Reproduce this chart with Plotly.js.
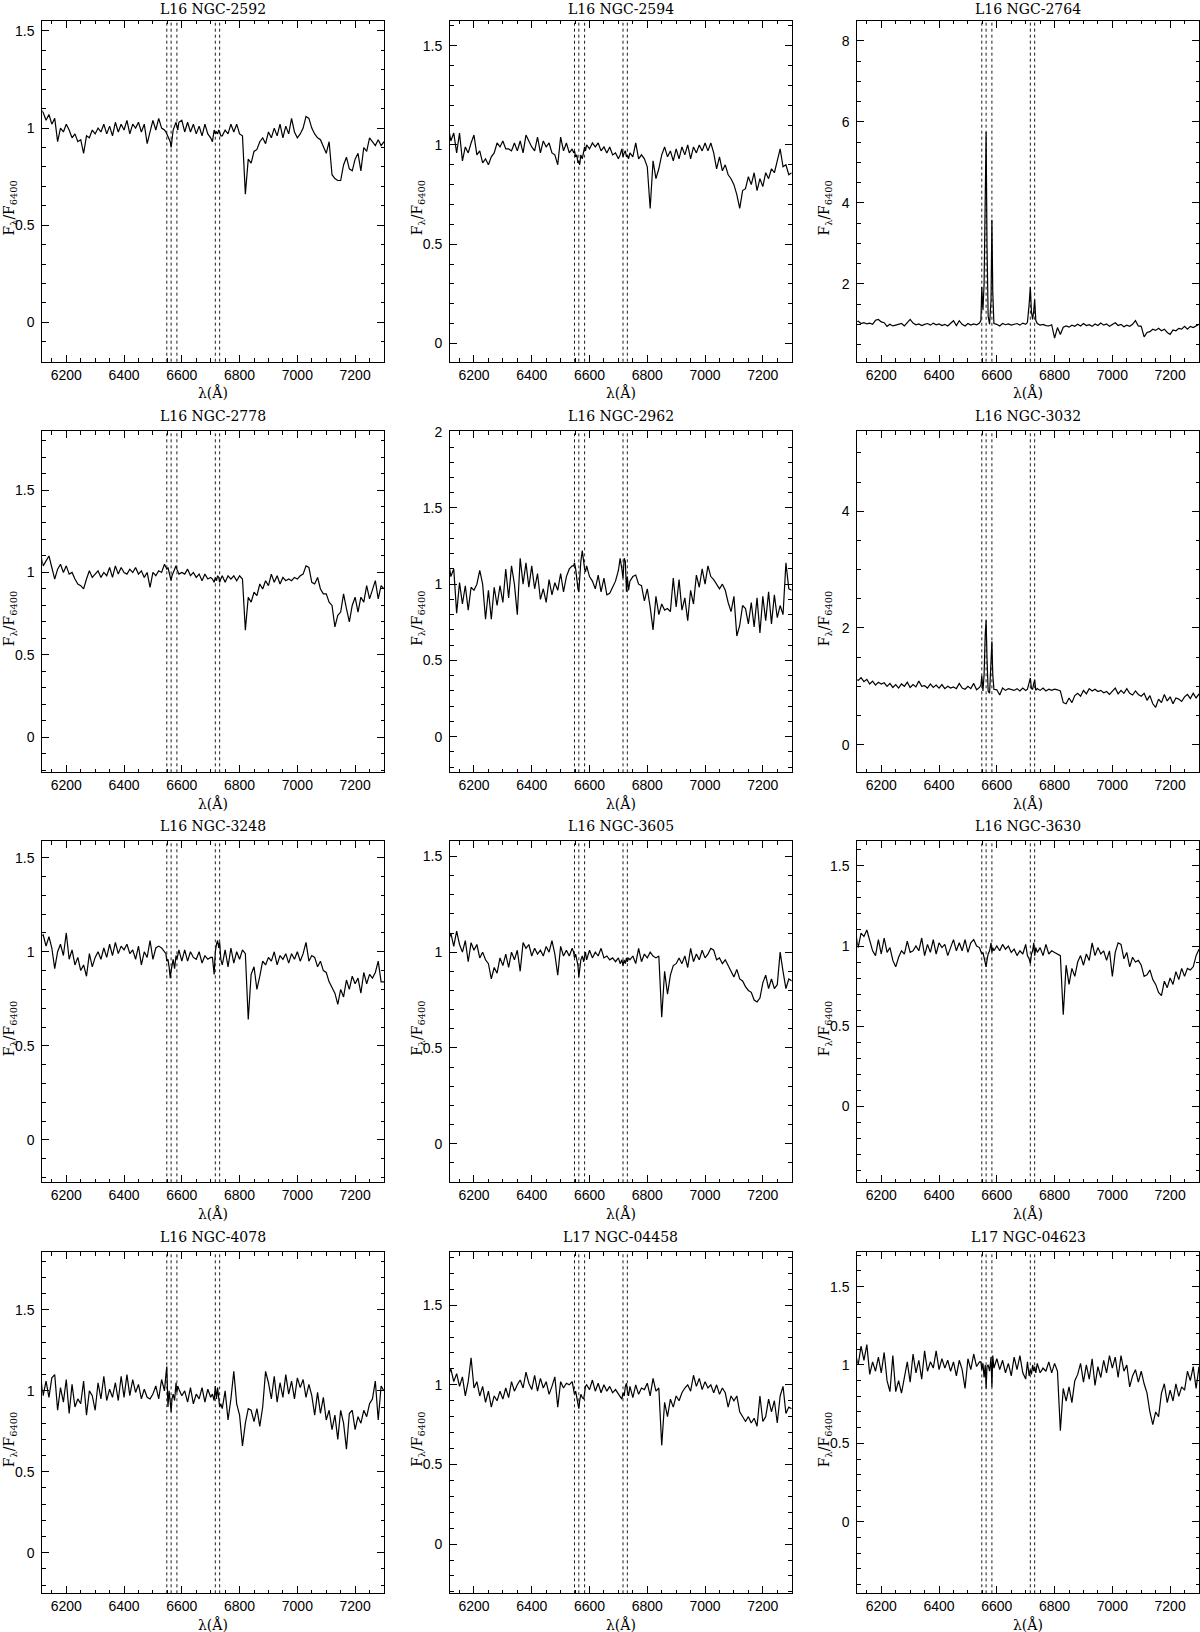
<!DOCTYPE html>
<html><head><meta charset="utf-8">
<script src="https://cdn.plot.ly/plotly-3.0.1.min.js"></script>
<style>html,body{margin:0;padding:0;background:#fff}#chart{width:1200px;height:1632px}</style>
</head><body><div id="chart"></div>
<script>
// Wavelength grid (Angstrom)
const wave = [6110,6120,6130,6140,6150,6160,6170,6180,6190,6200,6210,6220,6230,6240,6250,6260,6270,6280,6290,6300,
6310,6320,6330,6340,6350,6360,6370,6380,6390,6400,6410,6420,6430,6440,6450,6460,6470,6480,6490,6500,6510,6520,6530,6540,
6545,6548,6552,6556,6560,6563,6566,6570,6575,6580,6583,6586,6590,
6600,6610,6620,6630,6640,6650,6660,6670,6680,6690,6700,
6706,6712,6716,6720,6724,6728,6731,6735,
6740,6750,6760,6770,6780,6790,6800,6810,6820,6830,6840,6850,6860,6870,6880,6890,6900,6910,6920,6930,
6940,6950,6960,6970,6980,6990,7000,7010,7020,7030,7040,7050,7060,7070,7080,7090,7100,7110,7120,7130,
7140,7150,7160,7170,7180,7190,7200,7210,7220,7230,7240,7250,7260,7270,7280,7290,7300];

// Marked emission lines: [NII]6548, Halpha, [NII]6583, [SII]6716, [SII]6731
const lineWaves = [6548, 6563, 6583, 6716, 6731];

const titles = ['L16 NGC-2592','L16 NGC-2594','L16 NGC-2764','L16 NGC-2778','L16 NGC-2962','L16 NGC-3032',
                'L16 NGC-3248','L16 NGC-3605','L16 NGC-3630','L16 NGC-4078','L17 NGC-04458','L17 NGC-04623'];

const ngc2592 = [1.10,1.08,1.04,1.07,1.02,1.05,0.93,1.00,0.98,1.02,0.99,0.95,0.97,0.93,0.94,0.87,0.96,0.95,0.99,0.97,
1.00,0.98,1.02,0.97,1.01,0.96,1.03,0.98,1.02,0.99,1.04,0.97,1.02,1.00,1.03,0.98,1.02,0.92,0.98,1.04,0.99,1.05,1.00,0.99,
0.98,0.97,0.96,0.95,0.93,0.90,0.95,0.99,1.01,1.03,1.01,0.99,1.03,
1.04,0.98,1.03,0.98,1.02,0.97,1.01,0.96,1.02,0.97,0.95,
0.93,0.99,0.97,0.98,0.97,0.99,0.98,0.96,
0.96,0.99,0.97,1.02,0.98,1.02,0.97,0.96,0.66,0.84,0.82,0.88,0.89,0.93,0.95,0.92,0.98,0.95,1.00,0.96,
1.02,0.95,1.01,0.97,1.05,0.98,0.95,0.97,1.00,1.06,1.05,1.00,0.97,0.95,0.94,0.90,0.87,0.93,0.76,0.74,
0.73,0.73,0.81,0.85,0.79,0.78,0.84,0.87,0.78,0.90,0.88,0.95,0.93,0.91,0.94,0.91,0.93];

const ngc2594 = [1.10,1.02,1.06,0.96,1.06,0.92,0.99,0.96,1.01,1.05,0.95,0.97,0.91,0.93,0.90,0.94,0.96,1.01,0.99,1.02,
0.98,0.98,0.97,1.01,0.97,1.02,0.96,1.05,1.02,0.99,0.97,1.04,0.96,1.02,0.99,1.01,0.96,0.95,0.90,1.04,0.97,1.01,0.96,0.98,
0.96,0.97,0.94,0.95,0.91,0.92,0.90,0.95,0.93,0.98,0.99,0.97,1.00,
0.98,1.01,0.99,1.01,0.97,0.99,0.96,0.99,0.95,0.96,0.93,
0.95,0.98,0.94,0.96,0.97,0.94,0.95,0.93,
0.96,0.94,1.01,0.93,0.95,0.93,0.89,0.68,0.92,0.83,0.88,0.95,0.99,0.94,0.97,0.92,0.98,0.93,0.99,0.95,
1.00,0.93,0.99,0.96,1.00,0.97,1.01,0.97,1.01,0.96,0.88,0.94,0.87,0.90,0.85,0.83,0.80,0.75,0.68,0.77,
0.78,0.84,0.80,0.86,0.77,0.83,0.79,0.86,0.83,0.88,0.86,0.92,0.98,0.89,0.90,0.85,0.86];

const ngc2764 = [1.05,1.08,1.02,1.04,1.01,1.03,1.00,1.10,1.12,1.06,1.04,0.95,1.00,0.96,0.98,1.00,1.02,0.96,1.04,1.12,
1.03,0.99,1.01,0.97,1.00,1.02,0.98,1.03,0.99,1.01,0.97,1.00,0.96,1.03,1.09,0.97,1.09,1.00,0.96,1.02,0.98,1.01,0.99,1.03,
1.10,1.92,1.35,2.00,4.60,5.75,3.00,1.20,1.00,1.60,3.58,1.80,1.02,
1.00,0.96,1.02,0.99,1.01,0.98,1.00,1.02,0.98,1.03,1.00,
1.05,1.50,1.92,1.30,1.12,1.35,1.61,1.10,
1.02,0.98,1.00,0.97,0.96,0.99,0.66,0.92,0.75,0.93,0.96,0.93,0.98,0.95,1.00,0.96,1.02,0.97,0.99,0.95,
1.01,0.97,1.03,0.98,1.01,0.95,0.99,1.04,0.97,1.00,0.94,0.98,0.95,1.00,1.09,0.96,0.95,0.69,0.80,0.82,
0.88,0.85,0.90,0.84,0.88,0.80,0.75,0.86,0.84,0.90,0.88,0.95,0.88,0.95,0.92,0.96,1.00];

const ngc2778 = [1.12,1.04,1.07,1.10,1.03,0.96,1.02,1.05,1.00,1.04,0.99,1.00,0.96,0.93,0.92,0.90,0.96,1.01,0.97,0.99,
1.01,0.97,1.00,0.98,1.03,0.97,1.04,0.99,1.03,1.00,0.99,1.02,1.00,1.03,0.99,1.01,0.97,1.00,0.91,1.00,0.98,1.01,1.00,1.05,
1.03,1.02,1.03,1.00,0.98,0.95,0.98,1.00,1.02,1.04,1.02,1.00,0.99,
1.00,0.99,1.02,0.98,1.00,0.97,0.99,0.95,0.99,0.96,0.97,
0.96,0.94,0.97,0.95,0.98,0.97,0.94,0.96,
0.98,0.94,0.98,0.96,0.98,0.95,0.98,0.96,0.65,0.85,0.82,0.88,0.86,0.93,0.90,0.95,0.92,0.99,0.94,0.98,
0.93,0.97,0.95,0.96,0.95,0.97,0.96,0.98,0.99,1.04,1.03,0.94,0.93,0.97,0.90,0.87,0.87,0.82,0.80,0.67,
0.74,0.76,0.87,0.78,0.70,0.80,0.85,0.76,0.85,0.82,0.92,0.84,0.90,0.95,0.84,0.92,0.90];

const ngc2962 = [1.17,1.05,1.10,0.81,1.01,0.87,0.99,0.83,0.98,0.96,1.00,1.09,1.00,0.77,0.96,0.77,0.98,0.86,0.99,0.88,
1.10,0.91,1.12,1.00,0.80,1.17,1.00,1.14,0.98,1.12,0.97,1.07,0.90,0.97,0.88,1.03,0.93,1.01,0.96,1.07,0.95,1.05,1.10,1.12,
1.12,1.14,1.10,1.02,0.97,0.95,1.05,1.15,1.22,1.13,1.10,1.08,1.12,
1.05,1.02,0.97,1.06,0.95,1.04,0.93,0.94,0.98,1.02,1.09,
1.17,1.10,1.04,1.17,1.15,0.95,1.05,0.96,
1.02,1.05,1.06,1.00,0.99,0.89,0.97,0.85,0.70,0.92,0.80,0.87,0.83,0.84,0.82,1.04,0.85,1.03,0.83,0.91,
0.76,0.96,0.87,1.06,0.98,1.10,1.00,1.12,1.05,1.03,1.00,0.97,1.00,0.96,0.88,0.82,0.92,0.66,0.73,0.86,
0.84,0.74,0.88,0.72,0.91,0.68,0.92,0.76,0.95,0.74,0.93,0.78,0.86,0.80,1.14,0.97,0.96];

const ngc3032 = [1.13,1.10,1.15,1.08,1.12,1.04,1.09,1.02,1.07,1.04,1.06,1.00,1.05,0.98,1.03,0.97,1.04,1.00,1.07,0.98,
1.03,0.99,1.09,1.00,1.01,0.97,1.04,0.98,1.02,0.97,1.03,0.96,1.00,0.97,0.99,0.96,1.05,0.97,0.95,1.00,0.96,1.05,0.94,0.98,
1.02,1.18,0.92,1.20,1.90,2.13,1.50,0.92,0.88,1.30,1.77,1.20,0.95,
0.94,0.85,0.97,0.93,0.96,0.94,0.93,0.96,0.92,0.97,0.93,
0.95,1.05,1.14,0.96,0.95,1.05,1.11,0.93,
0.96,0.93,0.97,0.92,0.95,0.93,0.95,0.94,0.92,0.72,0.70,0.80,0.72,0.84,0.88,0.83,0.93,0.87,0.96,0.92,
0.95,0.91,0.93,0.89,0.91,0.86,0.92,0.97,0.87,0.93,0.88,0.96,0.88,0.85,0.92,0.86,0.83,0.88,0.76,0.84,
0.70,0.64,0.78,0.72,0.86,0.75,0.82,0.70,0.80,0.78,0.74,0.82,0.86,0.79,0.88,0.80,0.87];

const ngc3248 = [1.08,1.09,1.03,1.08,1.02,0.91,1.00,1.04,0.98,1.10,0.96,1.01,0.93,0.97,0.90,0.93,0.87,0.99,0.92,0.97,
1.00,0.96,1.02,0.97,1.04,0.98,1.05,0.99,1.03,1.01,1.04,0.99,1.01,0.96,1.03,0.93,1.00,0.97,1.06,0.96,1.02,1.03,1.02,1.00,
0.99,0.95,0.96,0.92,0.86,0.90,0.93,0.96,0.91,0.98,0.96,0.99,1.01,
0.95,1.01,0.95,1.00,0.97,0.96,1.00,0.94,0.98,0.96,0.97,
0.97,0.88,1.00,1.04,1.06,1.02,1.05,0.96,
0.93,1.01,0.92,1.02,0.94,1.00,0.96,1.01,0.99,0.64,0.88,0.92,0.80,0.87,0.95,0.93,0.97,0.95,1.00,0.93,
0.98,0.96,0.99,0.94,0.99,0.96,1.00,0.95,0.99,1.05,0.95,0.98,0.97,0.92,0.95,0.90,0.89,0.84,0.81,0.78,
0.72,0.80,0.76,0.85,0.80,0.87,0.83,0.86,0.78,0.89,0.83,0.88,0.86,0.89,0.95,0.84,0.84];

const ngc3605 = [1.05,1.10,1.03,1.11,1.04,1.00,1.06,0.95,1.05,1.01,1.04,0.97,1.00,0.96,0.94,0.86,0.92,0.89,0.97,0.93,
0.99,0.92,1.00,0.96,1.01,0.90,1.05,1.02,1.04,0.98,1.02,0.99,1.01,0.98,1.03,1.00,1.06,0.99,0.88,1.03,0.98,1.01,0.98,1.02,
1.00,0.97,0.99,0.95,0.93,0.87,0.93,0.96,0.98,0.95,0.98,1.00,0.96,
1.01,0.97,1.00,0.98,1.02,0.97,0.98,0.96,0.97,0.95,0.97,
0.94,0.96,0.93,0.96,0.94,0.97,0.95,0.97,
0.96,0.98,0.94,1.02,0.95,0.99,0.97,1.00,0.98,0.97,0.98,0.66,0.90,0.78,0.88,0.93,0.94,0.97,0.94,0.98,
0.92,1.02,0.95,0.99,0.96,1.01,0.97,0.99,1.02,1.01,0.96,0.97,0.94,0.96,0.93,0.90,0.87,0.91,0.86,0.85,
0.82,0.80,0.79,0.75,0.74,0.76,0.84,0.88,0.81,0.86,0.81,0.83,1.00,0.90,0.81,0.86,0.85];

const ngc3630 = [1.10,0.99,1.08,1.06,1.10,1.03,0.97,0.94,1.04,0.95,1.05,0.96,0.99,0.91,0.87,0.93,0.97,0.95,1.03,0.96,
0.97,1.00,0.97,1.05,0.94,1.01,0.96,1.04,0.95,1.02,0.99,1.01,0.94,0.99,1.04,0.97,1.02,0.97,1.04,0.96,1.02,1.04,1.00,0.99,
0.97,0.95,0.96,0.93,0.90,0.87,0.91,0.95,0.97,1.02,0.96,0.99,0.97,
1.00,0.97,1.01,0.98,1.00,0.96,0.98,0.94,0.97,0.95,1.01,
0.94,0.92,0.89,0.95,0.97,1.02,0.94,0.99,
0.96,0.99,0.94,1.01,0.95,0.97,0.96,0.95,0.94,0.57,0.88,0.76,0.86,0.81,0.90,0.94,0.88,0.95,0.91,1.02,
0.94,0.99,0.95,0.97,0.91,0.97,0.81,0.96,1.02,1.01,0.92,0.96,0.87,0.93,0.90,0.91,0.88,0.81,0.82,0.85,
0.79,0.76,0.71,0.69,0.78,0.74,0.80,0.76,0.84,0.79,0.86,0.81,0.86,0.85,0.87,0.94,0.98];

const ngc4078 = [1.10,0.97,1.06,0.96,1.08,1.10,0.88,1.02,0.93,1.07,0.86,1.04,0.90,0.95,0.92,1.06,0.85,1.00,0.97,0.88,
1.05,0.95,1.09,0.94,1.01,0.96,1.05,0.94,1.09,0.96,1.10,0.97,1.07,0.99,1.04,0.95,1.01,0.96,0.95,0.98,1.03,0.95,1.07,1.00,
1.10,1.15,0.90,1.00,0.93,0.87,0.95,0.98,0.94,1.05,0.99,1.03,1.01,
0.97,1.00,0.93,1.02,0.92,0.98,0.95,1.02,0.93,1.01,0.96,
0.98,0.94,1.03,0.95,1.02,0.93,0.90,0.92,
0.89,1.00,0.82,0.95,1.12,0.92,0.85,0.66,0.80,0.89,0.88,0.81,0.89,0.78,0.90,1.12,1.05,0.95,1.09,0.93,
1.05,0.96,1.10,0.98,1.06,0.95,1.08,1.02,1.07,0.96,1.04,0.97,0.85,0.99,0.86,0.96,0.82,0.88,0.76,0.85,
0.70,0.88,0.80,0.64,0.86,0.88,0.76,0.84,0.80,0.88,0.84,0.92,0.95,1.06,0.82,1.03,1.00];

const ngc04458 = [1.05,1.10,1.02,1.07,0.99,1.05,0.93,1.02,1.17,0.98,1.02,0.93,0.99,0.89,0.96,0.86,0.93,0.90,0.96,0.91,
0.98,0.92,1.02,0.96,1.00,1.03,0.98,1.08,1.01,0.97,1.06,0.96,1.04,0.98,1.02,0.94,0.99,1.05,0.86,1.02,0.98,1.01,1.00,1.02,
0.97,0.94,0.96,0.92,0.88,0.85,0.90,0.94,0.92,0.91,0.95,0.99,1.00,
0.97,1.03,0.96,1.01,0.95,1.00,0.96,0.99,0.95,0.97,0.94,
0.92,0.91,0.95,0.93,0.99,1.01,0.96,0.93,
0.99,0.92,1.00,0.94,0.98,0.97,1.01,0.93,1.04,0.96,0.98,0.62,0.89,0.80,0.91,0.86,0.93,0.90,0.95,0.98,
1.00,0.96,1.06,0.99,1.04,0.97,1.02,0.98,1.00,0.95,1.00,0.94,0.98,0.95,0.86,0.93,0.90,0.93,0.83,0.80,
0.77,0.80,0.76,0.79,0.74,0.93,0.77,0.80,0.91,0.83,0.90,0.76,0.93,0.99,0.82,0.86,0.85];

const ngc04623 = [1.08,1.00,1.12,1.03,1.13,0.94,1.02,0.96,1.05,0.95,1.08,0.90,0.83,1.06,0.83,0.90,0.82,0.93,1.02,0.89,
1.07,0.95,1.03,0.91,1.09,0.96,1.02,0.98,1.09,0.97,1.04,0.98,1.03,0.96,1.02,0.93,1.03,0.97,0.85,1.04,0.97,1.07,0.99,1.02,
1.02,0.97,1.01,0.92,1.00,0.85,0.99,1.00,0.96,1.05,0.86,1.06,0.98,
1.04,0.97,1.03,0.95,1.01,0.93,1.05,0.97,1.06,0.95,0.91,
1.02,0.93,0.97,0.94,1.00,0.96,0.99,0.95,
1.01,0.95,0.98,0.96,1.02,0.95,1.01,0.96,0.58,0.85,0.77,0.86,0.76,0.90,0.94,1.01,0.89,1.00,0.91,1.04,
0.87,0.99,0.92,1.03,0.95,1.06,0.98,1.05,0.92,1.06,0.96,1.00,0.86,0.93,0.97,0.89,0.96,0.88,0.82,0.70,
0.62,0.70,0.67,0.82,0.88,0.76,0.84,0.77,0.88,0.80,0.86,0.84,0.96,0.90,0.99,0.85,0.99];

const fluxes = [ngc2592, ngc2594, ngc2764, ngc2778, ngc2962, ngc3032,
                ngc3248, ngc3605, ngc3630, ngc4078, ngc04458, ngc04623];

// Axis settings (layout, not data)
const xRange = [6117, 7300];
const yRanges = [[-0.203,1.553],[-0.092,1.626],[0.077,8.50],[-0.212,1.856],[-0.234,2.003],[-0.474,5.371],
                 [-0.225,1.587],[-0.202,1.579],[-0.476,1.654],[-0.251,1.856],[-0.309,1.832],[-0.457,1.719]];
const yMajor = [0.5,0.5,2,0.5,0.5,2,0.5,0.5,0.5,0.5,0.5,0.5];
const yMinor = [0.1,0.1,0.5,0.1,0.1,0.5,0.1,0.1,0.1,0.1,0.1,0.1];

const W = 1200, H = 1632;
const colLeft = [42.3, 450, 857.3], colW = 341.7;
const rowTop = [20.7, 431.3, 841.3, 1252.3], rowH = 341;

const tickFont = {family: 'Liberation Sans, Arial, sans-serif', size: 14, color: '#000'};
const serifFont = {family: 'DejaVu Serif, serif', size: 14, color: '#000'};

const data = [], shapes = [], annotations = [];
const layout = {
  width: W, height: H, margin: {l: 0, r: 0, t: 0, b: 0},
  paper_bgcolor: '#fff', plot_bgcolor: '#fff', showlegend: false
};

fluxes.forEach((flux, i) => {
  const r = Math.floor(i / 3), c = i % 3;
  const n = i + 1;
  const xa = 'xaxis' + (n === 1 ? '' : n), ya = 'yaxis' + (n === 1 ? '' : n);
  const xr = 'x' + (n === 1 ? '' : n), yr = 'y' + (n === 1 ? '' : n);
  const left = colLeft[c], top = rowTop[r], bottom = top + rowH;

  data.push({x: wave, y: flux, xaxis: xr, yaxis: yr, type: 'scatter', mode: 'lines',
             name: titles[i], line: {color: '#000', width: 1.2}, hoverinfo: 'x+y'});

  layout[xa] = {
    domain: [left / W, (left + colW) / W], range: xRange, anchor: yr,
    tick0: 0, dtick: 200, ticks: 'inside', ticklen: 7, tickwidth: 1, tickcolor: '#000',
    minor: {dtick: 50, tick0: 0, ticks: 'inside', ticklen: 3.5, tickcolor: '#000', showgrid: false},
    showline: true, mirror: 'allticks', linecolor: '#000', linewidth: 1,
    showgrid: false, zeroline: false, tickfont: tickFont, ticklabelstandoff: 0
  };
  layout[ya] = {
    domain: [1 - bottom / H, 1 - top / H], range: yRanges[i], anchor: xr,
    tick0: 0, dtick: yMajor[i], ticks: 'inside', ticklen: 7, tickwidth: 1, tickcolor: '#000',
    minor: {dtick: yMinor[i], tick0: 0, ticks: 'inside', ticklen: 3.5, tickcolor: '#000', showgrid: false},
    showline: true, mirror: 'allticks', linecolor: '#000', linewidth: 1,
    showgrid: false, zeroline: false, tickfont: tickFont, ticklabelstandoff: 4
  };

  lineWaves.forEach(w => shapes.push({
    type: 'line', xref: xr, yref: yr + ' domain', x0: w, x1: w, y0: 0, y1: 1,
    line: {color: '#000', width: 0.9, dash: 'dot'}
  }));

  // panel title
  annotations.push({text: titles[i], xref: 'paper', yref: 'paper',
    x: (left + colW / 2) / W, y: 1 - Math.max(top - 15, 9) / H, xanchor: 'center', yanchor: 'middle',
    showarrow: false, font: serifFont});
  // x axis title
  annotations.push({text: 'λ(Å)', xref: 'paper', yref: 'paper',
    x: (left + colW / 2) / W, y: 1 - (bottom + 31) / H, xanchor: 'center', yanchor: 'middle',
    showarrow: false, font: serifFont});
  // y axis title
  annotations.push({text: 'F<sub>λ</sub>/F<sub>6400</sub>', xref: 'paper', yref: 'paper',
    x: (left - 32) / W, y: 1 - (top + rowH * 0.55) / H, xanchor: 'center', yanchor: 'middle',
    textangle: -90, showarrow: false, font: serifFont});
});

layout.shapes = shapes;
layout.annotations = annotations;

Plotly.newPlot('chart', data, layout, {staticPlot: true, displayModeBar: false});
</script>
</body></html>
